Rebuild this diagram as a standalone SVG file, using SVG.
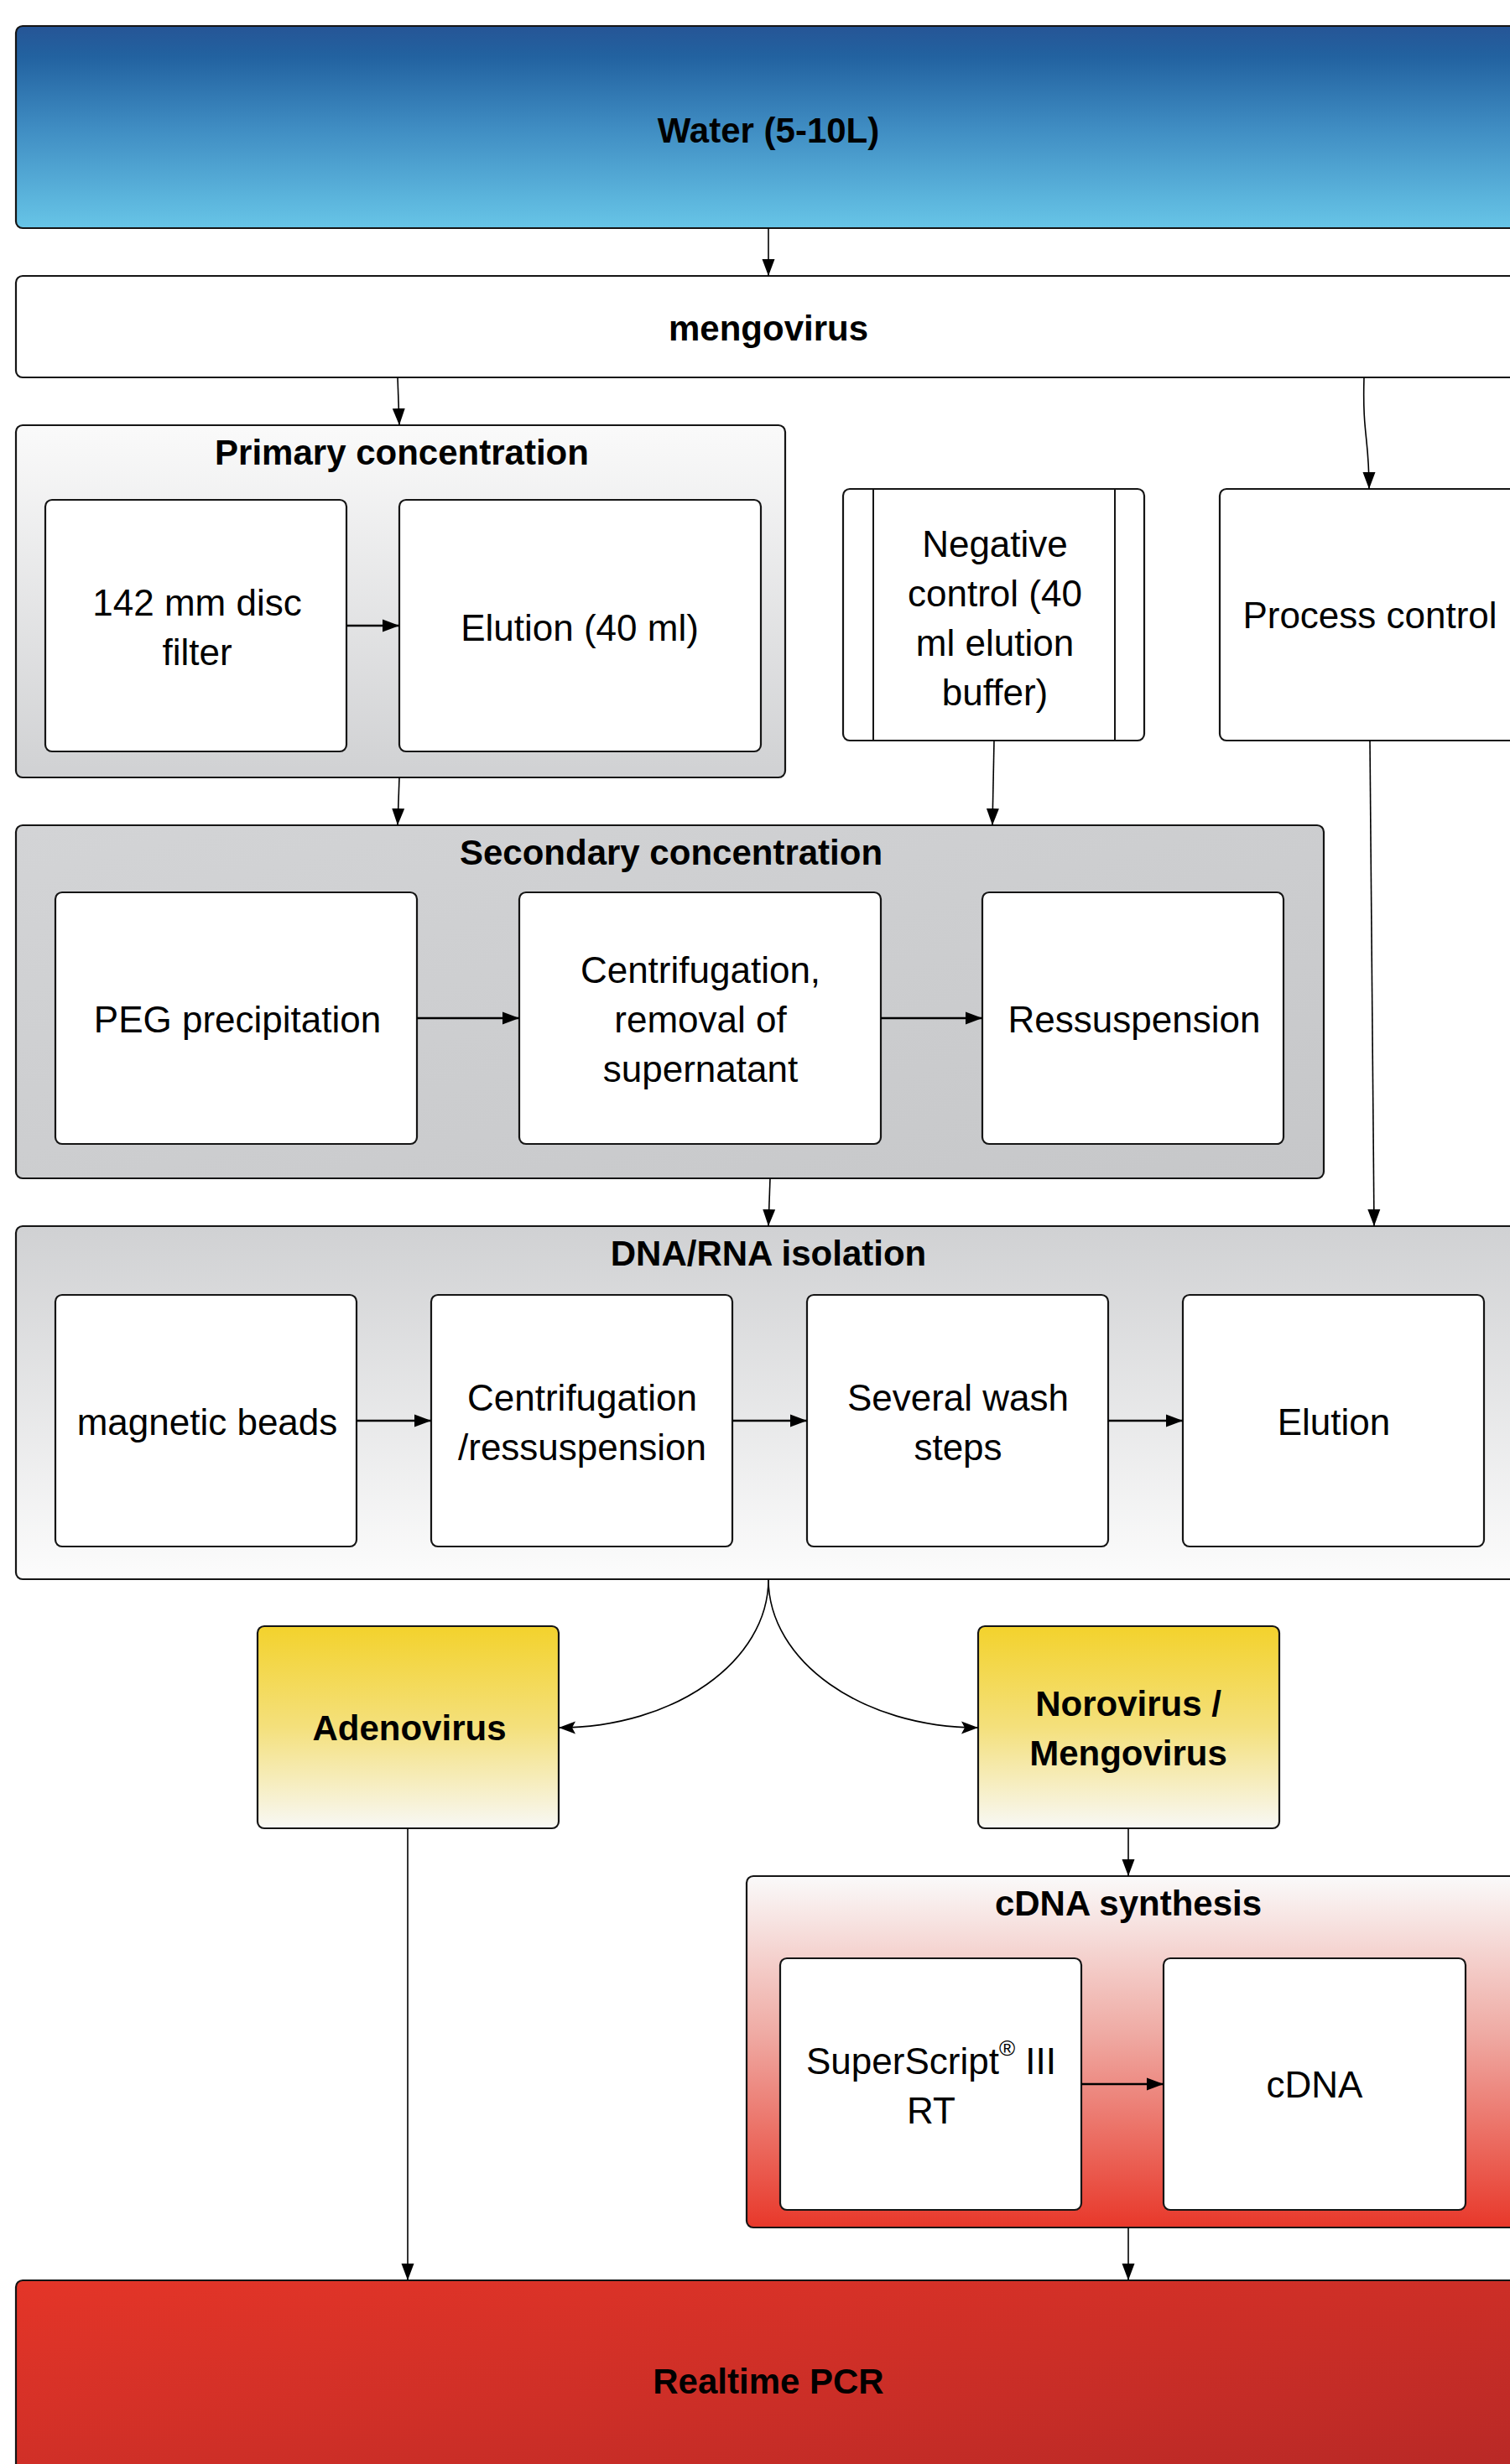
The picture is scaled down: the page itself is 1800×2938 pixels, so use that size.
<svg xmlns="http://www.w3.org/2000/svg" width="1800" height="2938" viewBox="0 0 1800 2938">
<style>
.box{stroke:#151515;stroke-width:2.2}
.w{fill:#ffffff}
.t{font-family:"Liberation Sans",Arial,sans-serif;font-size:44px;fill:#000;text-anchor:middle;dominant-baseline:central}
.b{font-weight:bold;font-size:42px}
.c{fill:none;stroke:#000;stroke-width:1.6}
.ci{fill:none;stroke:#000;stroke-width:2.6}
</style>
<defs>
<linearGradient id="gWater" x1="0" y1="0" x2="0" y2="1">
<stop offset="0" stop-color="#265596"/>
<stop offset="0.15" stop-color="#2262a0"/>
<stop offset="0.5" stop-color="#3f8cc2"/>
<stop offset="1" stop-color="#67c5e7"/>
</linearGradient>
<linearGradient id="gPrim" x1="0" y1="0" x2="0" y2="1">
<stop offset="0" stop-color="#fafafa"/>
<stop offset="1" stop-color="#d0d1d3"/>
</linearGradient>
<linearGradient id="gSec" x1="0" y1="0" x2="1" y2="1">
<stop offset="0" stop-color="#d3d4d6"/>
<stop offset="1" stop-color="#c6c7c9"/>
</linearGradient>
<linearGradient id="gDna" x1="0" y1="0" x2="0" y2="1">
<stop offset="0" stop-color="#d0d1d3"/>
<stop offset="1" stop-color="#fcfcfc"/>
</linearGradient>
<linearGradient id="gYel" x1="0" y1="0" x2="0" y2="1">
<stop offset="0" stop-color="#f3d22c"/>
<stop offset="0.5" stop-color="#f4e07c"/>
<stop offset="1" stop-color="#f8f8f5"/>
</linearGradient>
<linearGradient id="gCdna" x1="0" y1="0" x2="0" y2="1">
<stop offset="0" stop-color="#fafafa"/>
<stop offset="0.45" stop-color="#efaaa3"/>
<stop offset="1" stop-color="#e8382a"/>
</linearGradient>
<linearGradient id="gPcr" x1="0" y1="0" x2="1" y2="1">
<stop offset="0" stop-color="#e43528"/>
<stop offset="1" stop-color="#b52826"/>
</linearGradient>
<marker id="ah" markerUnits="userSpaceOnUse" markerWidth="20" markerHeight="16" refX="20" refY="7.5" orient="auto" viewBox="0 0 20 15">
<path d="M0,0 L20,7.5 L0,15 z" fill="#000"/>
</marker>
<marker id="ahc" markerUnits="userSpaceOnUse" markerWidth="20" markerHeight="16" refX="20" refY="7.5" orient="auto" viewBox="0 0 20 15">
<path d="M0,0 L20,7.5 L0,15 L4,7.5 z" fill="#000"/>
</marker>
</defs>
<rect width="1800" height="2938" fill="#ffffff"/>

<g id="water"><rect class="box" x="19" y="31" width="1794" height="241" rx="8" fill="url(#gWater)"/><text class="t b" x="916" y="155">Water (5-10L)</text></g>
<g id="mengovirus"><rect class="box w" x="19" y="329" width="1794" height="121" rx="8"/><text class="t b" x="916" y="391">mengovirus</text></g>

<g id="primary"><rect class="box" x="19" y="507" width="917" height="420" rx="8" fill="url(#gPrim)"/><text class="t b" x="479" y="539">Primary concentration</text></g>
<g id="disc"><rect class="box w" x="54" y="596" width="359" height="300" rx="8"/><text class="t" x="235" y="718">142 mm disc</text><text class="t" x="235" y="777">filter</text></g>
<g id="elution40"><rect class="box w" x="476" y="596" width="431" height="300" rx="8"/><text class="t" x="691" y="748">Elution (40 ml)</text></g>

<g id="negative"><rect class="box w" x="1005" y="583" width="359" height="300" rx="8"/><line x1="1041" y1="583" x2="1041" y2="883" stroke="#151515" stroke-width="2"/><line x1="1329" y1="583" x2="1329" y2="883" stroke="#151515" stroke-width="2"/><text class="t" x="1186" y="648">Negative</text><text class="t" x="1186" y="707">control (40</text><text class="t" x="1186" y="766">ml elution</text><text class="t" x="1186" y="825">buffer)</text></g>
<g id="process"><rect class="box w" x="1454" y="583" width="358" height="300" rx="8"/><text class="t" x="1633" y="733">Process control</text></g>

<g id="secondary"><rect class="box" x="19" y="984" width="1559" height="421" rx="8" fill="url(#gSec)"/><text class="t b" x="800" y="1016">Secondary concentration</text></g>
<g id="peg"><rect class="box w" x="66" y="1064" width="431" height="300" rx="8"/><text class="t" x="283" y="1215">PEG precipitation</text></g>
<g id="centrif1"><rect class="box w" x="619" y="1064" width="431" height="300" rx="8"/><text class="t" x="835" y="1156">Centrifugation,</text><text class="t" x="835" y="1215">removal of</text><text class="t" x="835" y="1274">supernatant</text></g>
<g id="ressusp"><rect class="box w" x="1171" y="1064" width="359" height="300" rx="8"/><text class="t" x="1352" y="1215">Ressuspension</text></g>

<g id="dnarna"><rect class="box" x="19" y="1462" width="1794" height="421" rx="8" fill="url(#gDna)"/><text class="t b" x="916" y="1494">DNA/RNA isolation</text></g>
<g id="beads"><rect class="box w" x="66" y="1544" width="359" height="300" rx="8"/><text class="t" x="247" y="1695">magnetic beads</text></g>
<g id="centrif2"><rect class="box w" x="514" y="1544" width="359" height="300" rx="8"/><text class="t" x="694" y="1666">Centrifugation</text><text class="t" x="694" y="1725">/ressuspension</text></g>
<g id="wash"><rect class="box w" x="962" y="1544" width="359" height="300" rx="8"/><text class="t" x="1142" y="1666">Several wash</text><text class="t" x="1142" y="1725">steps</text></g>
<g id="elution"><rect class="box w" x="1410" y="1544" width="359" height="300" rx="8"/><text class="t" x="1590" y="1695">Elution</text></g>

<g id="adenovirus"><rect class="box" x="307" y="1939" width="359" height="241" rx="8" fill="url(#gYel)"/><text class="t b" x="488" y="2060">Adenovirus</text></g>
<g id="norovirus"><rect class="box" x="1166" y="1939" width="359" height="241" rx="8" fill="url(#gYel)"/><text class="t b" x="1345" y="2031">Norovirus /</text><text class="t b" x="1345" y="2090">Mengovirus</text></g>

<g id="cdnasynth"><rect class="box" x="890" y="2237" width="922" height="419" rx="8" fill="url(#gCdna)"/><text class="t b" x="1345" y="2269">cDNA synthesis</text></g>
<g id="superscript"><rect class="box w" x="930" y="2335" width="359" height="300" rx="8"/><text class="t" x="1110" y="2457">SuperScript<tspan font-size="26" baseline-shift="super">®</tspan> III</text><text class="t" x="1110" y="2516">RT</text></g>
<g id="cdna"><rect class="box w" x="1387" y="2335" width="360" height="300" rx="8"/><text class="t" x="1567" y="2485">cDNA</text></g>

<g id="pcr"><rect class="box" x="19" y="2719" width="1794" height="260" rx="8" fill="url(#gPcr)"/><text class="t b" x="916" y="2839">Realtime PCR</text></g>

<g id="connectors">
<path class="c" d="M916,272 L916,329" marker-end="url(#ah)"/>
<path class="c" d="M474,450 L476,507" marker-end="url(#ah)"/>
<path class="c" d="M1626,450 C1624,520 1632,520 1632,583" marker-end="url(#ah)"/>
<path class="c" d="M476,927 L474,984" marker-end="url(#ah)"/>
<path class="c" d="M1185,883 L1183,984" marker-end="url(#ah)"/>
<path class="c" d="M1633,883 L1638,1462" marker-end="url(#ah)"/>
<path class="c" d="M918,1405 L916,1462" marker-end="url(#ah)"/>
<path class="c" d="M916,1883 C916,1981 804,2060 666,2060" marker-end="url(#ahc)"/>
<path class="c" d="M916,1883 C916,1981 1028,2060 1166,2060" marker-end="url(#ahc)"/>
<path class="c" d="M486,2180 L486,2719" marker-end="url(#ah)"/>
<path class="c" d="M1345,2180 L1345,2237" marker-end="url(#ah)"/>
<path class="c" d="M1345,2656 L1345,2719" marker-end="url(#ah)"/>
<path class="ci" d="M413,746 L476,746" marker-end="url(#ah)"/>
<path class="ci" d="M497,1214 L619,1214" marker-end="url(#ah)"/>
<path class="ci" d="M1050,1214 L1171,1214" marker-end="url(#ah)"/>
<path class="ci" d="M425,1694 L514,1694" marker-end="url(#ah)"/>
<path class="ci" d="M873,1694 L962,1694" marker-end="url(#ah)"/>
<path class="ci" d="M1321,1694 L1410,1694" marker-end="url(#ah)"/>
<path class="ci" d="M1289,2485 L1387,2485" marker-end="url(#ah)"/>
</g>
</svg>
